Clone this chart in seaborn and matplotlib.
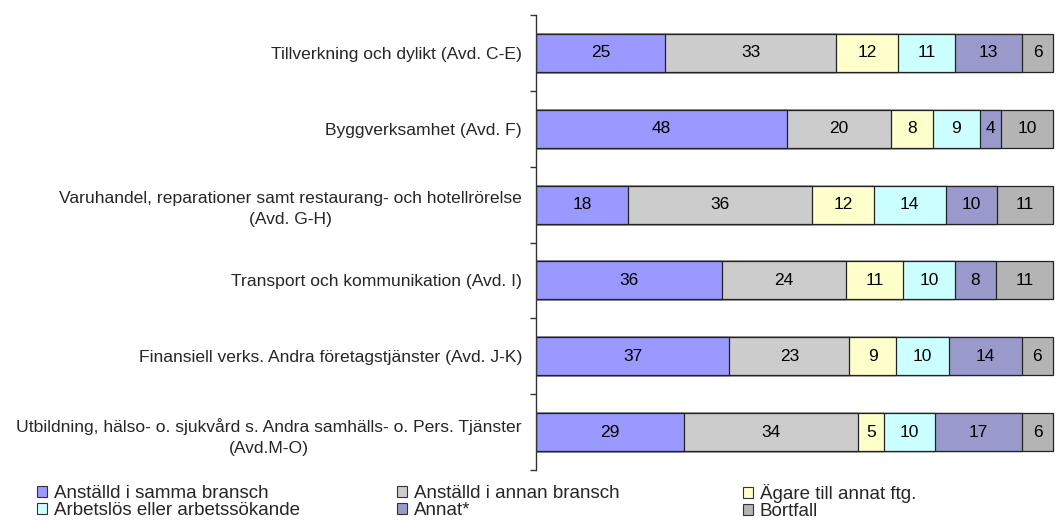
import numpy as np
import pandas as pd
import seaborn as sns
import matplotlib.pyplot as plt
from matplotlib.patches import Patch

sns.set_style("white")
plt.rcParams['font.family'] = ['Liberation Sans', 'DejaVu Sans']

# Data
branscher = [
    "Tillverkning och dylikt (Avd. C-E)",
    "Byggverksamhet (Avd. F)",
    "Varuhandel, reparationer samt restaurang- och hotellrörelse\n(Avd. G-H)",
    "Transport och kommunikation (Avd. I)",
    "Finansiell verks. Andra företagstjänster (Avd. J-K)",
    "Utbildning, hälso- o. sjukvård s. Andra samhälls- o. Pers. Tjänster\n(Avd.M-O)",
]
serier = ["Anställd i samma bransch", "Anställd i annan bransch", "Ägare till annat ftg.",
          "Arbetslös eller arbetssökande", "Annat*", "Bortfall"]
samma = [25, 48, 18, 36, 37, 29]
annan = [33, 20, 36, 24, 23, 34]
agare = [12, 8, 12, 11, 9, 5]
arbetslos = [11, 9, 14, 10, 10, 10]
annat = [13, 4, 10, 8, 14, 17]
bortfall = [6, 10, 11, 11, 6, 6]
farger = ["#9999FF", "#CCCCCC", "#FFFFCC", "#CCFFFF", "#9999CC", "#B4B4B4"]

vals = np.array([samma, annan, agare, arbetslos, annat, bortfall], dtype=float)
# 100% stacked, as in the original chart
andel = vals / vals.sum(axis=0) * 100
kum = andel.cumsum(axis=0)

fig = plt.figure(figsize=(10.62, 5.22), dpi=100)
ax = fig.add_axes([536 / 1062, 1 - 470 / 522, 526 / 1062, 455 / 522])

# draw the cumulative bars from the largest down so they stack
for i in range(len(serier) - 1, -1, -1):
    d = pd.DataFrame({"bransch": branscher, "kum": kum[i]})
    sns.barplot(data=d, x="kum", y="bransch", orient="h", color=farger[i],
                width=0.5, edgecolor="#222222", linewidth=0.9, saturation=1, ax=ax)

for i in range(len(serier)):
    for j in range(len(branscher)):
        ax.text(kum[i, j] - andel[i, j] / 2, j, f"{int(vals[i, j])}",
                ha="center", va="center", fontsize=12.5, color="black")

ax.set_xlim(0, 526 / 5.17)
ax.set_ylim(5.5, -0.5)
ax.set_xlabel("")
ax.set_ylabel("")
ax.set_xticks([])
for s in ["top", "right", "bottom"]:
    ax.spines[s].set_visible(False)
ax.spines["left"].set_color("#333333")
ax.spines["left"].set_linewidth(1)
ax.set_yticks(np.arange(-0.5, 6, 1), minor=True)
ax.tick_params(axis="y", which="minor", length=4, width=1, color="#333333", left=True)
ax.tick_params(axis="y", which="major", length=0, pad=10, labelsize=12.6)
for lbl in ax.get_yticklabels():
    lbl.set_multialignment("center")
    lbl.set_linespacing(1.5)

# legend in three columns
kolumner = [(0, 3, 37), (1, 4, 397), (2, 5, 743)]
for a, b, xpix in kolumner:
    h = [Patch(facecolor=farger[a], edgecolor="#333333", linewidth=0.8),
         Patch(facecolor=farger[b], edgecolor="#333333", linewidth=0.8)]
    fig.legend(h, [serier[a], serier[b]], loc="center left",
               bbox_to_anchor=(xpix / 1062, 1 - 502 / 522), frameon=False,
               fontsize=13.5, handlelength=0.55, handleheight=0.55, handletextpad=0.35,
               labelspacing=0.0, borderpad=0, borderaxespad=0)

plt.savefig("out.png", dpi=100)
